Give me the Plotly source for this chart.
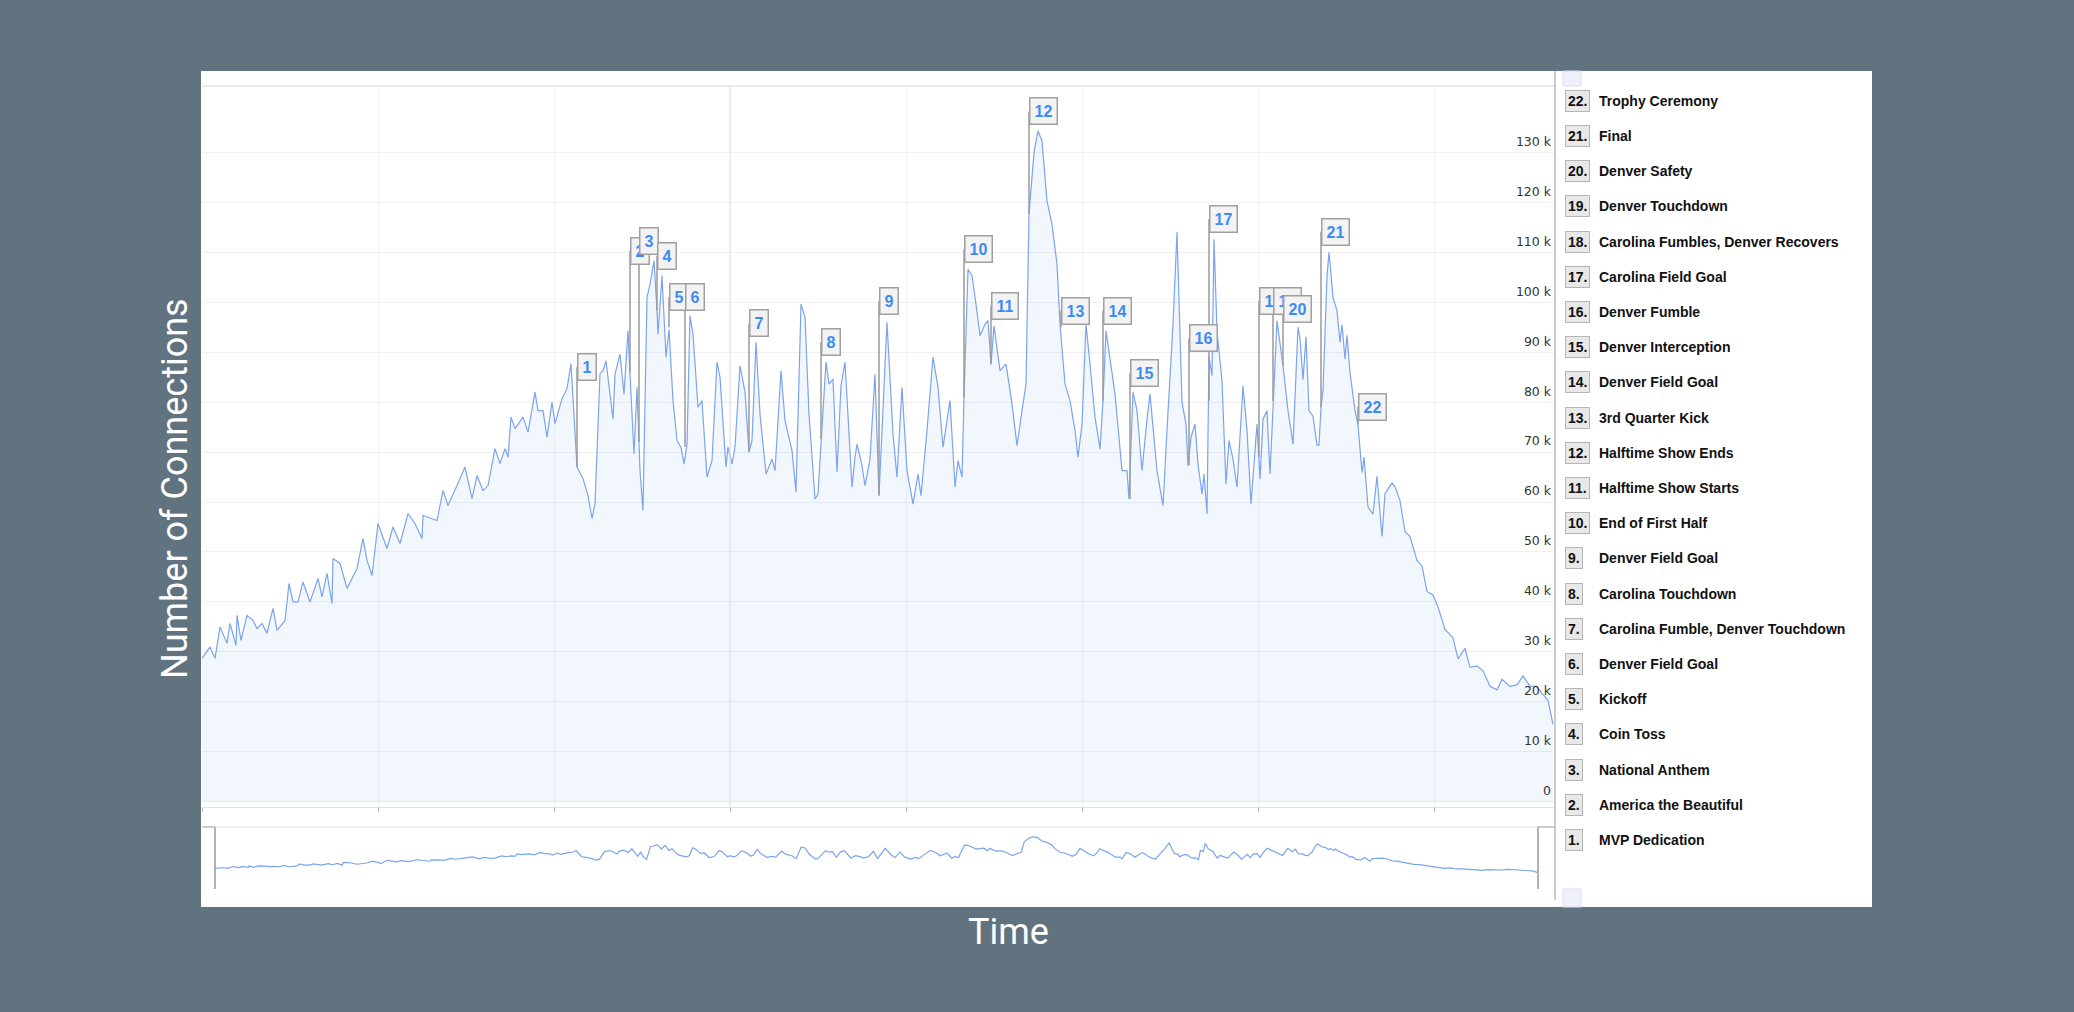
import plotly.graph_objects as go

W, H = 2074, 1012

times = [0,8,13,18,25,28,34,35,39,45,51,55,60,65,71,75,83,87,91,96,101,108,116,120,125,130,131,138,145,155,161,165,170,176,185,191,198,206,213,220,221,235,241,246,255,263,270,275,281,286,293,298,303,306,309,313,321,326,333,336,341,345,350,353,360,365,369,375,381,386,390,393,398,
401,404,408,411,413,418,422,426,428,432,435,438,441,445,448,452,455,456,460,464,467,471,475,479,482,485,488,491,496,500,505,510,515,518,524,526,530,533,538,543,547,550,554,558,564,570,573,579,583,590,594,599,603,607,613,616,620,624,627,631,635,639,643,650,653,655,660,663,668,673,677,685,691,695,700,705,711,716,719,725,731,736,741,748,
753,756,760,762,766,770,774,778,783,786,789,792,798,804,810,815,820,824,827,832,836,840,845,850,855,858,863,868,873,876,880,884,888,893,898,901,904,908,913,920,925,927,931,935,940,945,948,955,961,966,971,975,980,984,986,989,993,996,1000,1002,1005,1007,1010,1012,1015,1020,1024,1027,1031,1035,1041,1045,1049,1055,1058,1061,1065,1068,1071,1075,1081,1086,1091,1096,
1098,1101,1104,1107,1111,1115,1117,1119,1121,1125,1127,1131,1135,1138,1140,1143,1145,1148,1153,1156,1160,1162,1166,1171,1175,1180,1183,1190,1193,1198,1203,1208,1215,1220,1225,1231,1236,1243,1251,1256,1263,1268,1275,1281,1288,1295,1300,1308,1315,1321,1328,1335,1340,1346,1351]

connections_k = [28.7,31,28.7,35,31.7,35.7,31.3,37.3,32.3,37.3,36.3,34.7,35.7,33.7,38.7,34.3,36.3,43.7,40,40,44,40,44.7,41,45.7,39.7,48.7,47.7,42.7,46.7,52.7,48.3,45.3,55.7,50.7,55,51.7,57.7,55.7,52.7,57.3,56.3,62.3,59.3,63.3,67,60.7,65.3,62.3,63.3,70.7,67.7,70.7,69,77,74.7,77,74,82,78.3,78.3,73,80,75.7,80.7,82.7,87.7,67,64.7,61.3,56.7,59.7,85.7,
86.3,88.3,81.6,76.6,85.6,89.6,81.6,94.3,85.6,69.6,83,66.3,58.3,101,103.6,108.3,98.3,93.6,105.3,89,94.6,80.3,72.3,71,67.6,71.6,97.3,93.6,79,80.3,65,68.3,88,85,67,71,67.6,71,87.3,82,70,72.3,92,77.6,65.6,68.6,66.3,86.3,76.3,70.3,62,99.6,97,77.6,60.6,61.6,75,88,83.6,84.6,66,83.3,88,63,69,71.6,67.3,63.3,68.6,85.6,61.3,96,73.6,65,83,66.3,59.6,65.6,61.3,74.3,89,83,71,80.3,
63,68.3,65,81,106.6,105.3,99.6,93.3,95.6,96.3,87.6,95.3,86.3,87.6,79.6,71.3,78.3,83.6,117.6,130,134.3,132.3,120.3,115.6,107.6,95.6,83.6,80.3,74.3,69,75.6,95.6,87.6,77,70.6,80.3,94.3,89,81.6,66.3,66.3,60.6,82,78.3,66.3,76.6,81.6,66.3,59.3,78,95.6,114,80,75.6,67.3,73,75.6,67.6,61.6,65.6,57.6,89,85.3,112.6,94.3,84.3,63.6,72.3,68.6,63,83.3,74.3,59.6,75.6,64.6,76.6,78.3,65.6,80.3,96.3,87.3,78.3,71.6,95,
92.8,84.5,93.1,78.3,77.2,71.4,71.4,79,82.4,105.2,110,101,98.3,92,95.5,88.6,93.4,85.9,78.3,75.5,65.9,69,59,57.6,65.2,53.1,61.7,63.8,63.1,60.3,54.1,53.1,48.3,47.2,42.1,41.4,39,34.5,32.8,28.6,30.7,26.9,27.2,26.2,23.1,22.4,24.5,23.1,23.4,25.2,23.1,23.1,21.7,20.3,15.5]
connections = [v * 1000 for v in connections_k]

flag_numbers = list(range(1, 23))
flag_times = [375,428,437,455,467,483,547,619,677,762,789,827,859,901,928,987,1007,1057,1071,1081,1119,1156]
flag_base_k = [67,86,72,98.3,95,71,70,72.6,61.3,81,87.6,117.6,95,80.3,60.6,67.3,80.3,69,80.3,87.3,79,75.5]
flag_box_k = [87,110.3,112.3,109.3,101,101,95.8,92,100.3,110.6,99.3,138.2,98.3,98.3,85.8,92.8,116.6,100.3,100.3,98.6,114.1,79.1]

event_names = ["MVP Dedication","America the Beautiful","National Anthem","Coin Toss","Kickoff",
    "Denver Field Goal","Carolina Fumble, Denver Touchdown","Carolina Touchdown","Denver Field Goal",
    "End of First Half","Halftime Show Starts","Halftime Show Ends","3rd Quarter Kick","Denver Field Goal",
    "Denver Interception","Denver Fumble","Carolina Field Goal","Carolina Fumbles, Denver Recovers",
    "Denver Touchdown","Denver Safety","Final","Trophy Ceremony"]

ytick_vals = [0,10000,20000,30000,40000,50000,60000,70000,80000,90000,100000,110000,120000,130000]
ytick_text = ["0","10 k","20 k","30 k","40 k","50 k","60 k","70 k","80 k","90 k","100 k","110 k","120 k","130 k"]

def px(x): return x / W
def py(y): return 1 - y / H

LINE = "#7ba4ee"
fig = go.Figure()
fig.add_trace(go.Scatter(x=times, y=connections, mode="lines", fill="tozeroy",
    line=dict(color=LINE, width=1.2), fillcolor="rgba(124,165,238,0.10)",
    hoverinfo="skip", xaxis="x", yaxis="y"))
fig.add_trace(go.Scatter(x=times, y=connections, mode="lines",
    line=dict(color=LINE, width=1.2), hoverinfo="skip", xaxis="x2", yaxis="y2"))

shapes = []
annotations = []
shapes.append(dict(type="rect", xref="paper", yref="paper", x0=px(201), x1=px(1872), y0=py(907), y1=py(71),
                   fillcolor="white", line=dict(width=0), layer="below"))
shapes.append(dict(type="line", xref="paper", yref="paper", x0=px(202), x1=px(1554), y0=py(86), y1=py(86),
                   line=dict(color="#e4e4e4", width=1.5)))
shapes.append(dict(type="line", xref="paper", yref="paper", x0=px(1555), x1=px(1555), y0=py(900), y1=py(71),
                   line=dict(color="#b8b8b8", width=1.5)))
shapes.append(dict(type="line", xref="x", yref="paper", x0=528, x1=528, y0=py(807), y1=py(86),
                   line=dict(color="#dcdfe6", width=1)))
shapes.append(dict(type="line", xref="paper", yref="paper", x0=px(215), x1=px(215), y0=py(889), y1=py(827),
                   line=dict(color="#999", width=1.5)))
shapes.append(dict(type="line", xref="paper", yref="paper", x0=px(1538), x1=px(1538), y0=py(889), y1=py(827),
                   line=dict(color="#999", width=1.5)))
shapes.append(dict(type="line", xref="paper", yref="paper", x0=px(202), x1=px(215), y0=py(827), y1=py(827),
                   line=dict(color="#999", width=1)))
shapes.append(dict(type="line", xref="paper", yref="paper", x0=px(1538), x1=px(1554), y0=py(827), y1=py(827),
                   line=dict(color="#999", width=1)))
shapes.append(dict(type="line", xref="paper", yref="paper", x0=px(215), x1=px(1538), y0=py(827), y1=py(827),
                   line=dict(color="#dcdcdc", width=1)))
shapes.append(dict(type="rect", xref="paper", yref="paper", x0=px(1563), x1=px(1581), y0=py(86), y1=py(71),
                   fillcolor="#eef0fb", line=dict(color="#dde", width=1)))
shapes.append(dict(type="rect", xref="paper", yref="paper", x0=px(1563), x1=px(1581), y0=py(907), y1=py(889),
                   fillcolor="#eef0fb", line=dict(color="#dde", width=1)))

for n, t, b, top in zip(flag_numbers, flag_times, flag_base_k, flag_box_k):
    shapes.append(dict(type="line", xref="x", yref="y", x0=t, x1=t, y0=b * 1000, y1=top * 1000,
                       line=dict(color="#9a9a9a", width=1.5), layer="above"))
    annotations.append(dict(x=t, y=top * 1000, xref="x", yref="y", xanchor="left", yanchor="middle",
        text="<b>%d</b>" % n, showarrow=False, bgcolor="#f3f3f3", bordercolor="#a0a0a0", borderwidth=1.5,
        borderpad=4, font=dict(family="Liberation Sans, Arial", size=16, color="#3d8bf2")))

for i, (n, name) in enumerate(zip(flag_numbers, event_names)):
    y = 840 - i * 35.2
    annotations.append(dict(x=px(1565), y=py(y), xref="paper", yref="paper", xanchor="left", yanchor="middle",
        text="<b>%d.</b>" % n, showarrow=False, bgcolor="#e8e8e8", bordercolor="#b5b5b5", borderwidth=1,
        borderpad=2, font=dict(family="Liberation Sans, Arial", size=14, color="#111")))
    annotations.append(dict(x=px(1597), y=py(y), xref="paper", yref="paper", xanchor="left", yanchor="middle",
        text="<b>%s</b>" % name, showarrow=False,
        font=dict(family="Liberation Sans, Arial", size=14, color="#111")))

annotations.append(dict(x=px(152), y=py(489), xref="paper", yref="paper", text="Number of Connections",
    textangle=-90, showarrow=False, font=dict(family="Roboto", size=36, color="white")))
annotations.append(dict(x=px(1008), y=py(955), xref="paper", yref="paper", text="Time",
    showarrow=False, font=dict(family="Roboto", size=36, color="white")))

fig.update_layout(
    width=W, height=H, margin=dict(l=0, r=0, t=0, b=0),
    paper_bgcolor="#627380", plot_bgcolor="rgba(0,0,0,0)", showlegend=False,
    xaxis=dict(domain=[px(202), px(1554)], range=[0, 1352], showticklabels=False,
               tick0=176, dtick=176, showgrid=True, gridcolor="#f3f3f5", zeroline=False,
               ticks="outside", ticklen=4, tickcolor="#bbb", showline=True, linecolor="#e0e0e0"),
    yaxis=dict(domain=[py(807), py(86)], range=[-1060, 143300], side="right",
               tickvals=ytick_vals, ticktext=ytick_text, ticklabelposition="inside", ticklabelshift=-11,
               showgrid=True, gridcolor="#f0f0f0", zeroline=False,
               tickfont=dict(family="DejaVu Sans", size=12.5, color="#333")),
    xaxis2=dict(domain=[px(215), px(1538)], range=[0, 1352], visible=False, anchor="y2"),
    yaxis2=dict(domain=[py(889), py(827)], range=[-40000, 167000], visible=False, anchor="x2"),
    shapes=shapes, annotations=annotations,
)
fig.write_html("out.html", config={"displayModeBar": False},
               post_script="document.body.style.margin='0';document.body.style.background='#627380';")
